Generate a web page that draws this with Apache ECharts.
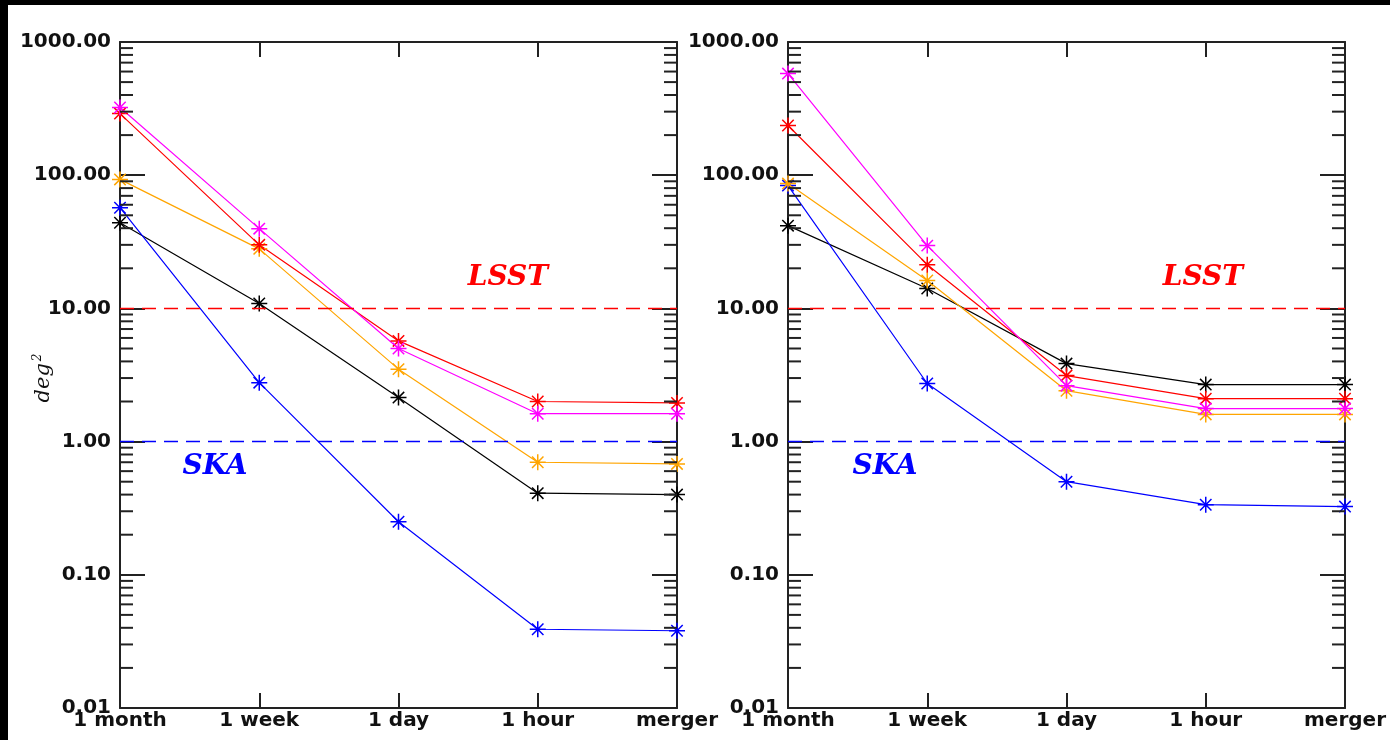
<!DOCTYPE html>
<html>
<head>
<meta charset="utf-8">
<script src="https://cdn.jsdelivr.net/npm/echarts@6/dist/echarts.min.js"></script>
<style>
  html, body { margin: 0; padding: 0; background: #fff; }
  #chart { width: 1390px; height: 740px; }
</style>
</head>
<body>
<div id="chart"></div>
<script>
  var categories = ['1 month', '1 week', '1 day', '1 hour', 'merger'];

  // left panel
  var leftMagenta = [322, 39.7, 5.0, 1.62, 1.62];
  var leftRed     = [290, 30, 5.7, 2.0, 1.95];
  var leftOrange  = [93, 28, 3.5, 0.70, 0.68];
  var leftBlack   = [44, 10.9, 2.14, 0.41, 0.40];
  var leftBlue    = [57, 2.77, 0.25, 0.039, 0.038];

  // right panel
  var rightMagenta = [579, 29.6, 2.63, 1.77, 1.77];
  var rightRed     = [236, 21.3, 3.13, 2.10, 2.10];
  var rightOrange  = [86.5, 16.2, 2.41, 1.60, 1.60];
  var rightBlack   = [41.8, 14.1, 3.85, 2.68, 2.68];
  var rightBlue    = [83.6, 2.73, 0.50, 0.336, 0.325];

  var lsstLevel = 10;
  var skaLevel = 1;

  // minor tick positions of the log axis (2..9 per decade)
  var minorTicks = [];
  [0.01, 0.1, 1, 10, 100].forEach(function(d) {
    for (var k = 2; k <= 9; k++) minorTicks.push(+(d * k).toPrecision(3));
  });

  var colors = { magenta: '#ff00ff', red: '#ff0000', orange: '#ffa500', black: '#000000', blue: '#0000ff' };
  var star = 'path://M0 7 L14 7 M7 0 L7 14 M2 2 L12 12 M2 12 L12 2';
  var labelFont = { color: '#111', fontFamily: 'DejaVu Sans', fontWeight: 'bold', fontSize: 20 };
  var frame = { show: true, lineStyle: { color: '#222', width: 2 } };

  var chart = echarts.init(document.getElementById('chart'));

  function lineSeries(data, color, gi) {
    return {
      type: 'line',
      xAxisIndex: gi * 2,
      yAxisIndex: gi * 2,
      data: data,
      symbol: star,
      symbolSize: 16,
      showSymbol: true,
      silent: true,
      z: 3,
      lineStyle: { color: color, width: 1.2 },
      itemStyle: { color: color, borderColor: color, borderWidth: 1.5 }
    };
  }

  function refLines(gi) {
    return {
      type: 'line',
      xAxisIndex: gi * 2,
      yAxisIndex: gi * 2,
      data: [],
      silent: true,
      markLine: {
        silent: true,
        symbol: 'none',
        label: { show: false },
        data: [
          { yAxis: lsstLevel, lineStyle: { color: '#ff0000', type: [14, 8], width: 1.3 } },
          { yAxis: skaLevel, lineStyle: { color: '#0000ff', type: [14, 8], width: 1.3 } }
        ]
      }
    };
  }

  // minor ticks on both vertical sides, placed through the axis scale
  function minorTickSeries(gi) {
    return {
      type: 'custom',
      xAxisIndex: gi * 2,
      yAxisIndex: gi * 2,
      silent: true,
      clip: false,
      z: 4,
      data: minorTicks.map(function(v) { return [0, v]; }),
      renderItem: function(params, api) {
        var l = api.coord([0, api.value(1)]);
        var r = api.coord([categories.length - 1, api.value(1)]);
        var st = { stroke: '#222', lineWidth: 2 };
        return {
          type: 'group',
          children: [
            { type: 'line', shape: { x1: l[0], y1: l[1], x2: l[0] + 13, y2: l[1] }, style: st },
            { type: 'line', shape: { x1: r[0] - 13, y1: r[1], x2: r[0], y2: r[1] }, style: st }
          ]
        };
      }
    };
  }

  function axesFor(gi) {
    var xs = [
      {
        type: 'category', gridIndex: gi, data: categories, boundaryGap: false,
        axisLine: frame,
        axisTick: { show: true, inside: true, length: 15, lineStyle: { color: '#222', width: 2 } },
        axisLabel: Object.assign({ margin: 3, interval: 0 }, labelFont),
        splitLine: { show: false }
      },
      {
        type: 'category', gridIndex: gi, data: categories, boundaryGap: false, position: 'top',
        axisLine: frame,
        axisTick: { show: true, inside: true, length: 15, lineStyle: { color: '#222', width: 2 } },
        axisLabel: { show: false },
        splitLine: { show: false }
      }
    ];
    var ys = [
      {
        type: 'log', gridIndex: gi, logBase: 10, min: 0.01, max: 1000,
        axisLine: frame,
        axisTick: { show: true, inside: true, length: 25, lineStyle: { color: '#222', width: 2 } },
        axisLabel: Object.assign({ margin: 9, formatter: function(v) { return v.toFixed(2); } }, labelFont),
        splitLine: { show: false }
      },
      {
        type: 'log', gridIndex: gi, logBase: 10, min: 0.01, max: 1000, position: 'right',
        axisLine: frame,
        axisTick: { show: true, inside: true, length: 25, lineStyle: { color: '#222', width: 2 } },
        axisLabel: { show: false },
        splitLine: { show: false }
      }
    ];
    return { xs: xs, ys: ys };
  }

  var a0 = axesFor(0), a1 = axesFor(1);

  var annotFont = { fontFamily: 'DejaVu Serif', fontStyle: 'italic', fontWeight: 'bold', fontSize: 28 };

  chart.setOption({
    backgroundColor: '#ffffff',
    animation: false,
    grid: [
      { left: 120, top: 42, width: 557, height: 666 },
      { left: 788, top: 42, width: 557, height: 666 }
    ],
    xAxis: a0.xs.concat(a1.xs),
    yAxis: a0.ys.concat(a1.ys),
    graphic: [
      { type: 'rect', left: 0, top: 0, shape: { width: 1390, height: 5 }, style: { fill: '#000' } },
      { type: 'rect', left: 0, top: 0, shape: { width: 8, height: 740 }, style: { fill: '#000' } },
      { type: 'text', x: 508, y: 278, style: Object.assign({ text: 'LSST', fill: '#ff0000', align: 'center', verticalAlign: 'middle' }, annotFont) },
      { type: 'text', x: 215, y: 467, style: Object.assign({ text: 'SKA', fill: '#0000ff', align: 'center', verticalAlign: 'middle' }, annotFont) },
      { type: 'text', x: 1203, y: 278, style: Object.assign({ text: 'LSST', fill: '#ff0000', align: 'center', verticalAlign: 'middle' }, annotFont) },
      { type: 'text', x: 885, y: 467, style: Object.assign({ text: 'SKA', fill: '#0000ff', align: 'center', verticalAlign: 'middle' }, annotFont) },
      {
        type: 'text', x: 44, y: 378, rotation: Math.PI / 2,
        style: {
          text: 'deg{sup|2}', fill: '#111', align: 'center', verticalAlign: 'middle',
          fontFamily: 'DejaVu Serif', fontStyle: 'italic', fontSize: 21,
          rich: { sup: { fontFamily: 'DejaVu Serif', fontStyle: 'italic', fontSize: 12, verticalAlign: 'top', padding: [0, 0, 12, 2] } }
        }
      }
    ],
    series: [
      refLines(0),
      minorTickSeries(0),
      lineSeries(leftBlack, colors.black, 0),
      lineSeries(leftBlue, colors.blue, 0),
      lineSeries(leftOrange, colors.orange, 0),
      lineSeries(leftRed, colors.red, 0),
      lineSeries(leftMagenta, colors.magenta, 0),
      refLines(1),
      minorTickSeries(1),
      lineSeries(rightBlack, colors.black, 1),
      lineSeries(rightBlue, colors.blue, 1),
      lineSeries(rightOrange, colors.orange, 1),
      lineSeries(rightRed, colors.red, 1),
      lineSeries(rightMagenta, colors.magenta, 1)
    ]
  });

  window.addEventListener('resize', function() { chart.resize(); });
</script>
</body>
</html>
